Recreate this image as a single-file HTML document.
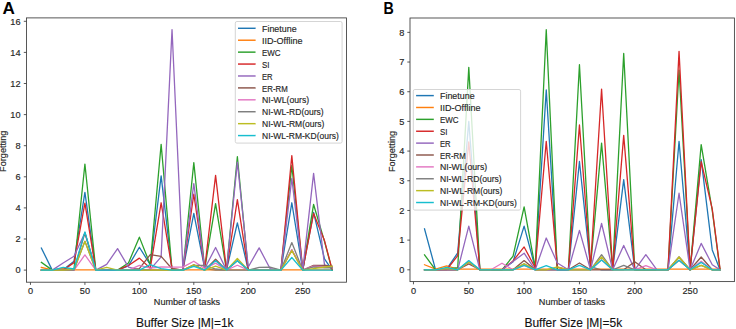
<!DOCTYPE html>
<html><head><meta charset="utf-8"><style>
html,body{margin:0;padding:0;background:#fff;}
body{width:736px;height:329px;overflow:hidden;}
svg{display:block;font-family:'Liberation Sans', sans-serif;}
</style></head><body>
<svg width="736" height="329" viewBox="0 0 736 329">
<rect width="736" height="329" fill="#fff"/>
<text transform="translate(2.4,13.6) scale(1.07,0.985)" font-size="16" font-weight="bold" fill="#000">A</text>
<text transform="translate(383.6,13.75) scale(0.89,1.0)" font-size="16" font-weight="bold" fill="#000">B</text>
<clipPath id="cA"><rect x="26.5" y="17.9" width="320.0" height="264.3"/></clipPath>
<g clip-path="url(#cA)" fill="none" stroke-width="1.3" stroke-linejoin="round" stroke-linecap="square">
<polyline stroke="#1f77b4" points="41.35,248.02 52.24,270.10 63.13,269.79 74.02,261.24 84.91,192.35 95.80,270.10 106.69,270.10 117.58,270.10 128.47,265.90 139.36,247.24 150.25,264.66 161.14,175.87 172.03,270.10 182.92,270.10 193.81,213.34 204.70,268.55 215.59,270.10 226.48,270.10 237.37,222.83 248.26,270.10 259.15,270.10 270.04,270.10 280.93,270.10 291.82,202.77 302.71,270.10 313.60,212.41 324.49,258.90 332.11,270.10"/>
<polyline stroke="#ff7f0e" points="41.35,267.46 52.24,269.79 63.13,268.08 74.02,269.79 84.91,269.79 95.80,269.79 106.69,269.79 117.58,269.79 128.47,269.79 139.36,269.79 150.25,269.79 161.14,269.79 172.03,269.79 182.92,269.79 193.81,269.79 204.70,269.79 215.59,269.79 226.48,269.79 237.37,269.79 248.26,269.79 259.15,269.79 270.04,269.79 280.93,269.79 291.82,269.79 302.71,269.79 313.60,269.79 324.49,269.79 332.11,269.79"/>
<polyline stroke="#2ca02c" points="41.35,262.33 52.24,270.10 63.13,269.79 74.02,269.01 84.91,164.05 95.80,270.10 106.69,270.10 117.58,270.10 128.47,262.95 139.36,237.13 150.25,264.66 161.14,144.30 172.03,270.10 182.92,270.10 193.81,162.65 204.70,268.55 215.59,203.70 226.48,270.10 237.37,156.74 248.26,270.10 259.15,270.10 270.04,270.10 280.93,270.10 291.82,165.45 302.71,270.10 313.60,204.48 324.49,241.33 332.11,270.10"/>
<polyline stroke="#d62728" points="41.35,270.10 52.24,270.10 63.13,270.10 74.02,262.64 84.91,203.08 95.80,270.10 106.69,270.10 117.58,270.10 128.47,265.44 139.36,258.13 150.25,268.23 161.14,202.77 172.03,268.70 182.92,270.10 193.81,194.22 204.70,268.55 215.59,175.40 226.48,270.10 237.37,199.66 248.26,270.10 259.15,270.10 270.04,270.10 280.93,270.10 291.82,155.65 302.71,270.10 313.60,213.50 324.49,240.56 332.11,269.48"/>
<polyline stroke="#9467bd" points="41.35,270.10 52.24,270.10 63.13,262.95 74.02,256.26 84.91,232.78 95.80,270.10 106.69,264.35 117.58,248.64 128.47,267.15 139.36,269.79 150.25,269.32 161.14,256.88 172.03,29.54 182.92,269.17 193.81,183.64 204.70,268.55 215.59,247.55 226.48,270.10 237.37,162.18 248.26,266.99 259.15,247.86 270.04,268.55 280.93,270.10 291.82,178.36 302.71,270.10 313.60,173.38 324.49,264.81 332.11,266.99"/>
<polyline stroke="#8c564b" points="41.35,270.10 52.24,270.10 63.13,270.10 74.02,270.10 84.91,232.78 95.80,270.10 106.69,270.10 117.58,270.10 128.47,270.10 139.36,268.70 150.25,254.71 161.14,256.42 172.03,268.70 182.92,270.10 193.81,264.81 204.70,270.10 215.59,259.22 226.48,270.10 237.37,260.77 248.26,270.10 259.15,270.10 270.04,270.10 280.93,270.10 291.82,249.89 302.71,270.10 313.60,265.28 324.49,265.44 332.11,266.21"/>
<polyline stroke="#e377c2" points="41.35,270.10 52.24,270.10 63.13,270.10 74.02,270.10 84.91,254.86 95.80,270.10 106.69,270.10 117.58,270.10 128.47,270.10 139.36,265.44 150.25,268.08 161.14,266.99 172.03,267.15 182.92,267.15 193.81,261.24 204.70,268.55 215.59,263.10 226.48,270.10 237.37,265.28 248.26,270.10 259.15,270.10 270.04,270.10 280.93,270.10 291.82,249.89 302.71,270.10 313.60,266.21 324.49,266.68 332.11,266.99"/>
<polyline stroke="#7f7f7f" points="41.35,270.10 52.24,270.10 63.13,270.10 74.02,270.10 84.91,241.33 95.80,270.10 106.69,270.10 117.58,270.10 128.47,270.10 139.36,270.10 150.25,270.10 161.14,270.10 172.03,270.10 182.92,270.10 193.81,265.44 204.70,265.44 215.59,269.01 226.48,270.10 237.37,270.10 248.26,270.10 259.15,267.46 270.04,267.15 280.93,270.10 291.82,242.58 302.71,270.10 313.60,266.99 324.49,267.77 332.11,267.77"/>
<polyline stroke="#bcbd22" points="41.35,270.10 52.24,270.10 63.13,270.10 74.02,269.32 84.91,241.33 95.80,270.10 106.69,267.46 117.58,270.10 128.47,270.10 139.36,270.10 150.25,270.10 161.14,270.10 172.03,270.10 182.92,270.10 193.81,264.81 204.70,270.10 215.59,266.06 226.48,270.10 237.37,258.44 248.26,270.10 259.15,270.10 270.04,270.10 280.93,270.10 291.82,250.66 302.71,270.10 313.60,268.55 324.49,266.99 332.11,266.21"/>
<polyline stroke="#17becf" points="41.35,270.10 52.24,270.10 63.13,267.46 74.02,269.01 84.91,231.85 95.80,270.10 106.69,270.10 117.58,270.10 128.47,270.10 139.36,270.10 150.25,264.66 161.14,268.55 172.03,270.10 182.92,270.10 193.81,266.37 204.70,270.10 215.59,260.77 226.48,270.10 237.37,260.77 248.26,270.10 259.15,270.10 270.04,270.10 280.93,270.10 291.82,257.50 302.71,270.10 313.60,270.10 324.49,270.10 332.11,270.10"/>
</g>
<rect x="235.3" y="21.5" width="106.8" height="121.6" rx="1.6" ry="1.6" fill="#fff" fill-opacity="0.8" stroke="#d0d0d0" stroke-width="0.9"/>
<line x1="238.0" x2="255.6" y1="28.30" y2="28.30" stroke="#1f77b4" stroke-width="1.45"/>
<text x="262.00" y="31.90" font-size="8.6" fill="#262626" stroke="#262626" stroke-width="0.15" textLength="34.61" lengthAdjust="spacingAndGlyphs">Finetune</text>
<line x1="238.0" x2="255.6" y1="40.22" y2="40.22" stroke="#ff7f0e" stroke-width="1.45"/>
<text x="262.00" y="43.82" font-size="8.6" fill="#262626" stroke="#262626" stroke-width="0.15" textLength="40.44" lengthAdjust="spacingAndGlyphs">IID-Offline</text>
<line x1="238.0" x2="255.6" y1="52.14" y2="52.14" stroke="#2ca02c" stroke-width="1.45"/>
<text x="262.00" y="55.74" font-size="8.6" fill="#262626" stroke="#262626" stroke-width="0.15" textLength="18.64" lengthAdjust="spacingAndGlyphs">EWC</text>
<line x1="238.0" x2="255.6" y1="64.06" y2="64.06" stroke="#d62728" stroke-width="1.45"/>
<text x="262.00" y="67.66" font-size="8.6" fill="#262626" stroke="#262626" stroke-width="0.15" textLength="7.47" lengthAdjust="spacingAndGlyphs">SI</text>
<line x1="238.0" x2="255.6" y1="75.98" y2="75.98" stroke="#9467bd" stroke-width="1.45"/>
<text x="262.00" y="79.58" font-size="8.6" fill="#262626" stroke="#262626" stroke-width="0.15" textLength="10.67" lengthAdjust="spacingAndGlyphs">ER</text>
<line x1="238.0" x2="255.6" y1="87.90" y2="87.90" stroke="#8c564b" stroke-width="1.45"/>
<text x="262.00" y="91.50" font-size="8.6" fill="#262626" stroke="#262626" stroke-width="0.15" textLength="25.77" lengthAdjust="spacingAndGlyphs">ER-RM</text>
<line x1="238.0" x2="255.6" y1="99.82" y2="99.82" stroke="#e377c2" stroke-width="1.45"/>
<text x="262.00" y="103.42" font-size="8.6" fill="#262626" stroke="#262626" stroke-width="0.15" textLength="47.17" lengthAdjust="spacingAndGlyphs">NI-WL(ours)</text>
<line x1="238.0" x2="255.6" y1="111.74" y2="111.74" stroke="#7f7f7f" stroke-width="1.45"/>
<text x="262.00" y="115.34" font-size="8.6" fill="#262626" stroke="#262626" stroke-width="0.15" textLength="61.71" lengthAdjust="spacingAndGlyphs">NI-WL-RD(ours)</text>
<line x1="238.0" x2="255.6" y1="123.66" y2="123.66" stroke="#bcbd22" stroke-width="1.45"/>
<text x="262.00" y="127.26" font-size="8.6" fill="#262626" stroke="#262626" stroke-width="0.15" textLength="62.46" lengthAdjust="spacingAndGlyphs">NI-WL-RM(ours)</text>
<line x1="238.0" x2="255.6" y1="135.58" y2="135.58" stroke="#17becf" stroke-width="1.45"/>
<text x="262.00" y="139.18" font-size="8.6" fill="#262626" stroke="#262626" stroke-width="0.15" textLength="76.82" lengthAdjust="spacingAndGlyphs">NI-WL-RM-KD(ours)</text>
<rect x="26.5" y="17.9" width="320.0" height="264.3" fill="none" stroke="#3a3a3a" stroke-width="0.85"/>
<line x1="23.8" x2="26.5" y1="270.10" y2="270.10" stroke="#3a3a3a" stroke-width="0.85"/>
<text x="20.60" y="273.30" font-size="8.6" text-anchor="end" fill="#262626" stroke="#262626" stroke-width="0.15" textLength="5.12" lengthAdjust="spacingAndGlyphs">0</text>
<line x1="23.8" x2="26.5" y1="239.00" y2="239.00" stroke="#3a3a3a" stroke-width="0.85"/>
<text x="20.60" y="242.20" font-size="8.6" text-anchor="end" fill="#262626" stroke="#262626" stroke-width="0.15" textLength="5.12" lengthAdjust="spacingAndGlyphs">2</text>
<line x1="23.8" x2="26.5" y1="207.90" y2="207.90" stroke="#3a3a3a" stroke-width="0.85"/>
<text x="20.60" y="211.10" font-size="8.6" text-anchor="end" fill="#262626" stroke="#262626" stroke-width="0.15" textLength="5.12" lengthAdjust="spacingAndGlyphs">4</text>
<line x1="23.8" x2="26.5" y1="176.80" y2="176.80" stroke="#3a3a3a" stroke-width="0.85"/>
<text x="20.60" y="180.00" font-size="8.6" text-anchor="end" fill="#262626" stroke="#262626" stroke-width="0.15" textLength="5.12" lengthAdjust="spacingAndGlyphs">6</text>
<line x1="23.8" x2="26.5" y1="145.70" y2="145.70" stroke="#3a3a3a" stroke-width="0.85"/>
<text x="20.60" y="148.90" font-size="8.6" text-anchor="end" fill="#262626" stroke="#262626" stroke-width="0.15" textLength="5.12" lengthAdjust="spacingAndGlyphs">8</text>
<line x1="23.8" x2="26.5" y1="114.60" y2="114.60" stroke="#3a3a3a" stroke-width="0.85"/>
<text x="20.60" y="117.80" font-size="8.6" text-anchor="end" fill="#262626" stroke="#262626" stroke-width="0.15" textLength="10.23" lengthAdjust="spacingAndGlyphs">10</text>
<line x1="23.8" x2="26.5" y1="83.50" y2="83.50" stroke="#3a3a3a" stroke-width="0.85"/>
<text x="20.60" y="86.70" font-size="8.6" text-anchor="end" fill="#262626" stroke="#262626" stroke-width="0.15" textLength="10.23" lengthAdjust="spacingAndGlyphs">12</text>
<line x1="23.8" x2="26.5" y1="52.40" y2="52.40" stroke="#3a3a3a" stroke-width="0.85"/>
<text x="20.60" y="55.60" font-size="8.6" text-anchor="end" fill="#262626" stroke="#262626" stroke-width="0.15" textLength="10.23" lengthAdjust="spacingAndGlyphs">14</text>
<line x1="23.8" x2="26.5" y1="21.30" y2="21.30" stroke="#3a3a3a" stroke-width="0.85"/>
<text x="20.60" y="24.50" font-size="8.6" text-anchor="end" fill="#262626" stroke="#262626" stroke-width="0.15" textLength="10.23" lengthAdjust="spacingAndGlyphs">16</text>
<line x1="30.46" x2="30.46" y1="282.2" y2="284.9" stroke="#3a3a3a" stroke-width="0.85"/>
<text x="30.46" y="293.80" font-size="8.6" text-anchor="middle" fill="#262626" stroke="#262626" stroke-width="0.15" textLength="5.12" lengthAdjust="spacingAndGlyphs">0</text>
<line x1="84.91" x2="84.91" y1="282.2" y2="284.9" stroke="#3a3a3a" stroke-width="0.85"/>
<text x="84.91" y="293.80" font-size="8.6" text-anchor="middle" fill="#262626" stroke="#262626" stroke-width="0.15" textLength="10.23" lengthAdjust="spacingAndGlyphs">50</text>
<line x1="139.36" x2="139.36" y1="282.2" y2="284.9" stroke="#3a3a3a" stroke-width="0.85"/>
<text x="139.36" y="293.80" font-size="8.6" text-anchor="middle" fill="#262626" stroke="#262626" stroke-width="0.15" textLength="15.35" lengthAdjust="spacingAndGlyphs">100</text>
<line x1="193.81" x2="193.81" y1="282.2" y2="284.9" stroke="#3a3a3a" stroke-width="0.85"/>
<text x="193.81" y="293.80" font-size="8.6" text-anchor="middle" fill="#262626" stroke="#262626" stroke-width="0.15" textLength="15.35" lengthAdjust="spacingAndGlyphs">150</text>
<line x1="248.26" x2="248.26" y1="282.2" y2="284.9" stroke="#3a3a3a" stroke-width="0.85"/>
<text x="248.26" y="293.80" font-size="8.6" text-anchor="middle" fill="#262626" stroke="#262626" stroke-width="0.15" textLength="15.35" lengthAdjust="spacingAndGlyphs">200</text>
<line x1="302.71" x2="302.71" y1="282.2" y2="284.9" stroke="#3a3a3a" stroke-width="0.85"/>
<text x="302.71" y="293.80" font-size="8.6" text-anchor="middle" fill="#262626" stroke="#262626" stroke-width="0.15" textLength="15.35" lengthAdjust="spacingAndGlyphs">250</text>
<text x="186.95" y="305.00" font-size="8.6" text-anchor="middle" fill="#262626" stroke="#262626" stroke-width="0.15" textLength="66.27" lengthAdjust="spacingAndGlyphs">Number of tasks</text>
<g transform="translate(6.2,151.3) rotate(-90)"><text x="0.00" y="0.00" font-size="8.6" text-anchor="middle" fill="#262626" stroke="#262626" stroke-width="0.15" textLength="41.21" lengthAdjust="spacingAndGlyphs">Forgetting</text></g>
<clipPath id="cB"><rect x="410.0" y="18.0" width="324.4" height="263.6"/></clipPath>
<g clip-path="url(#cB)" fill="none" stroke-width="1.3" stroke-linejoin="round" stroke-linecap="square">
<polyline stroke="#1f77b4" points="424.53,228.84 435.59,269.80 446.66,269.21 457.72,252.88 468.79,121.40 479.86,269.80 490.92,269.80 501.99,269.80 513.05,261.79 524.12,226.17 535.19,267.72 546.25,89.94 557.32,269.80 568.38,269.80 579.45,161.47 590.52,266.83 601.58,269.80 612.65,269.80 623.71,179.57 634.78,269.80 645.85,269.80 656.91,269.80 667.98,269.80 679.04,141.29 690.11,269.80 701.18,159.69 712.24,249.91 719.99,269.80"/>
<polyline stroke="#ff7f0e" points="424.53,264.75 435.59,269.21 446.66,265.94 457.72,269.21 468.79,269.21 479.86,269.21 490.92,269.21 501.99,269.21 513.05,269.21 524.12,269.21 535.19,269.21 546.25,269.21 557.32,269.21 568.38,269.21 579.45,269.21 590.52,269.21 601.58,269.21 612.65,269.21 623.71,269.21 634.78,269.21 645.85,269.21 656.91,269.21 667.98,269.21 679.04,269.21 690.11,269.21 701.18,269.21 712.24,269.21 719.99,269.21"/>
<polyline stroke="#2ca02c" points="424.53,254.96 435.59,269.80 446.66,269.21 457.72,267.72 468.79,67.38 479.86,269.80 490.92,269.80 501.99,269.80 513.05,256.15 524.12,206.88 535.19,267.72 546.25,29.69 557.32,269.80 568.38,269.80 579.45,64.71 590.52,266.83 601.58,143.07 612.65,269.80 623.71,53.43 634.78,269.80 645.85,269.80 656.91,269.80 667.98,269.80 679.04,70.05 690.11,269.80 701.18,144.55 712.24,210.44 719.99,269.80"/>
<polyline stroke="#d62728" points="424.53,269.80 435.59,269.80 446.66,269.80 457.72,255.55 468.79,141.88 479.86,269.80 490.92,269.80 501.99,269.80 513.05,260.90 524.12,246.95 535.19,267.72 546.25,141.29 557.32,267.13 568.38,269.80 579.45,124.96 590.52,266.83 601.58,89.05 612.65,269.80 623.71,135.35 634.78,269.80 645.85,269.80 656.91,269.80 667.98,269.80 679.04,51.36 690.11,269.80 701.18,161.76 712.24,208.96 719.99,268.61"/>
<polyline stroke="#9467bd" points="424.53,269.80 435.59,269.80 446.66,269.80 457.72,269.80 468.79,226.17 479.86,269.80 490.92,269.80 501.99,269.80 513.05,261.49 524.12,253.18 535.19,269.80 546.25,238.04 557.32,262.97 568.38,269.80 579.45,230.33 590.52,269.80 601.58,223.50 612.65,269.80 623.71,245.46 634.78,269.80 645.85,254.66 656.91,269.80 667.98,269.80 679.04,193.23 690.11,269.80 701.18,243.38 712.24,264.75 719.99,269.80"/>
<polyline stroke="#8c564b" points="424.53,269.80 435.59,269.80 446.66,269.80 457.72,269.80 468.79,263.86 479.86,269.80 490.92,269.80 501.99,269.80 513.05,269.80 524.12,260.60 535.19,269.80 546.25,269.80 557.32,269.80 568.38,269.80 579.45,262.97 590.52,269.80 601.58,269.80 612.65,269.80 623.71,269.80 634.78,261.79 645.85,269.80 656.91,269.80 667.98,269.80 679.04,260.30 690.11,269.80 701.18,257.04 712.24,269.80 719.99,269.80"/>
<polyline stroke="#e377c2" points="424.53,269.80 435.59,269.80 446.66,269.80 457.72,269.80 468.79,262.08 479.86,269.80 490.92,269.80 501.99,263.27 513.05,269.80 524.12,265.35 535.19,269.80 546.25,269.80 557.32,269.80 568.38,269.80 579.45,269.80 590.52,269.80 601.58,259.71 612.65,269.80 623.71,269.80 634.78,269.80 645.85,265.64 656.91,269.80 667.98,269.80 679.04,257.04 690.11,269.80 701.18,261.19 712.24,269.80 719.99,269.80"/>
<polyline stroke="#7f7f7f" points="424.53,269.80 435.59,269.80 446.66,269.80 457.72,269.80 468.79,262.08 479.86,269.80 490.92,269.80 501.99,269.80 513.05,269.80 524.12,263.86 535.19,269.80 546.25,269.80 557.32,269.80 568.38,269.80 579.45,269.80 590.52,269.80 601.58,254.66 612.65,269.80 623.71,265.35 634.78,269.80 645.85,269.80 656.91,269.80 667.98,269.80 679.04,257.04 690.11,269.80 701.18,265.35 712.24,269.80 719.99,269.80"/>
<polyline stroke="#bcbd22" points="424.53,269.80 435.59,269.80 446.66,268.32 457.72,269.80 468.79,262.08 479.86,269.80 490.92,269.80 501.99,269.80 513.05,269.80 524.12,263.86 535.19,269.80 546.25,269.80 557.32,266.83 568.38,269.80 579.45,269.80 590.52,269.80 601.58,257.04 612.65,269.80 623.71,269.80 634.78,269.80 645.85,269.80 656.91,269.80 667.98,269.80 679.04,257.04 690.11,269.80 701.18,265.35 712.24,269.80 719.99,269.80"/>
<polyline stroke="#17becf" points="424.53,269.80 435.59,269.80 446.66,267.43 457.72,269.80 468.79,260.60 479.86,269.80 490.92,269.80 501.99,269.80 513.05,269.80 524.12,265.35 535.19,269.80 546.25,265.64 557.32,269.80 568.38,269.80 579.45,265.35 590.52,269.80 601.58,260.01 612.65,269.80 623.71,269.80 634.78,269.80 645.85,269.80 656.91,269.80 667.98,269.80 679.04,260.30 690.11,269.80 701.18,262.38 712.24,269.80 719.99,269.80"/>
</g>
<rect x="413.3" y="89.5" width="107.3" height="120.6" rx="1.6" ry="1.6" fill="#fff" fill-opacity="0.8" stroke="#d0d0d0" stroke-width="0.9"/>
<line x1="416.1" x2="433.8" y1="95.60" y2="95.60" stroke="#1f77b4" stroke-width="1.45"/>
<text x="440.00" y="99.20" font-size="8.6" fill="#262626" stroke="#262626" stroke-width="0.15" textLength="34.61" lengthAdjust="spacingAndGlyphs">Finetune</text>
<line x1="416.1" x2="433.8" y1="107.48" y2="107.48" stroke="#ff7f0e" stroke-width="1.45"/>
<text x="440.00" y="111.08" font-size="8.6" fill="#262626" stroke="#262626" stroke-width="0.15" textLength="40.44" lengthAdjust="spacingAndGlyphs">IID-Offline</text>
<line x1="416.1" x2="433.8" y1="119.36" y2="119.36" stroke="#2ca02c" stroke-width="1.45"/>
<text x="440.00" y="122.96" font-size="8.6" fill="#262626" stroke="#262626" stroke-width="0.15" textLength="18.64" lengthAdjust="spacingAndGlyphs">EWC</text>
<line x1="416.1" x2="433.8" y1="131.24" y2="131.24" stroke="#d62728" stroke-width="1.45"/>
<text x="440.00" y="134.84" font-size="8.6" fill="#262626" stroke="#262626" stroke-width="0.15" textLength="7.47" lengthAdjust="spacingAndGlyphs">SI</text>
<line x1="416.1" x2="433.8" y1="143.12" y2="143.12" stroke="#9467bd" stroke-width="1.45"/>
<text x="440.00" y="146.72" font-size="8.6" fill="#262626" stroke="#262626" stroke-width="0.15" textLength="10.67" lengthAdjust="spacingAndGlyphs">ER</text>
<line x1="416.1" x2="433.8" y1="155.00" y2="155.00" stroke="#8c564b" stroke-width="1.45"/>
<text x="440.00" y="158.60" font-size="8.6" fill="#262626" stroke="#262626" stroke-width="0.15" textLength="25.77" lengthAdjust="spacingAndGlyphs">ER-RM</text>
<line x1="416.1" x2="433.8" y1="166.88" y2="166.88" stroke="#e377c2" stroke-width="1.45"/>
<text x="440.00" y="170.48" font-size="8.6" fill="#262626" stroke="#262626" stroke-width="0.15" textLength="47.17" lengthAdjust="spacingAndGlyphs">NI-WL(ours)</text>
<line x1="416.1" x2="433.8" y1="178.76" y2="178.76" stroke="#7f7f7f" stroke-width="1.45"/>
<text x="440.00" y="182.36" font-size="8.6" fill="#262626" stroke="#262626" stroke-width="0.15" textLength="61.71" lengthAdjust="spacingAndGlyphs">NI-WL-RD(ours)</text>
<line x1="416.1" x2="433.8" y1="190.64" y2="190.64" stroke="#bcbd22" stroke-width="1.45"/>
<text x="440.00" y="194.24" font-size="8.6" fill="#262626" stroke="#262626" stroke-width="0.15" textLength="62.46" lengthAdjust="spacingAndGlyphs">NI-WL-RM(ours)</text>
<line x1="416.1" x2="433.8" y1="202.52" y2="202.52" stroke="#17becf" stroke-width="1.45"/>
<text x="440.00" y="206.12" font-size="8.6" fill="#262626" stroke="#262626" stroke-width="0.15" textLength="76.82" lengthAdjust="spacingAndGlyphs">NI-WL-RM-KD(ours)</text>
<rect x="410.0" y="18.0" width="324.4" height="263.6" fill="none" stroke="#3a3a3a" stroke-width="0.85"/>
<line x1="407.3" x2="410.0" y1="269.80" y2="269.80" stroke="#3a3a3a" stroke-width="0.85"/>
<text x="404.40" y="273.00" font-size="8.6" text-anchor="end" fill="#262626" stroke="#262626" stroke-width="0.15" textLength="5.12" lengthAdjust="spacingAndGlyphs">0</text>
<line x1="407.3" x2="410.0" y1="240.12" y2="240.12" stroke="#3a3a3a" stroke-width="0.85"/>
<text x="404.40" y="243.32" font-size="8.6" text-anchor="end" fill="#262626" stroke="#262626" stroke-width="0.15" textLength="5.12" lengthAdjust="spacingAndGlyphs">1</text>
<line x1="407.3" x2="410.0" y1="210.44" y2="210.44" stroke="#3a3a3a" stroke-width="0.85"/>
<text x="404.40" y="213.64" font-size="8.6" text-anchor="end" fill="#262626" stroke="#262626" stroke-width="0.15" textLength="5.12" lengthAdjust="spacingAndGlyphs">2</text>
<line x1="407.3" x2="410.0" y1="180.76" y2="180.76" stroke="#3a3a3a" stroke-width="0.85"/>
<text x="404.40" y="183.96" font-size="8.6" text-anchor="end" fill="#262626" stroke="#262626" stroke-width="0.15" textLength="5.12" lengthAdjust="spacingAndGlyphs">3</text>
<line x1="407.3" x2="410.0" y1="151.08" y2="151.08" stroke="#3a3a3a" stroke-width="0.85"/>
<text x="404.40" y="154.28" font-size="8.6" text-anchor="end" fill="#262626" stroke="#262626" stroke-width="0.15" textLength="5.12" lengthAdjust="spacingAndGlyphs">4</text>
<line x1="407.3" x2="410.0" y1="121.40" y2="121.40" stroke="#3a3a3a" stroke-width="0.85"/>
<text x="404.40" y="124.60" font-size="8.6" text-anchor="end" fill="#262626" stroke="#262626" stroke-width="0.15" textLength="5.12" lengthAdjust="spacingAndGlyphs">5</text>
<line x1="407.3" x2="410.0" y1="91.72" y2="91.72" stroke="#3a3a3a" stroke-width="0.85"/>
<text x="404.40" y="94.92" font-size="8.6" text-anchor="end" fill="#262626" stroke="#262626" stroke-width="0.15" textLength="5.12" lengthAdjust="spacingAndGlyphs">6</text>
<line x1="407.3" x2="410.0" y1="62.04" y2="62.04" stroke="#3a3a3a" stroke-width="0.85"/>
<text x="404.40" y="65.24" font-size="8.6" text-anchor="end" fill="#262626" stroke="#262626" stroke-width="0.15" textLength="5.12" lengthAdjust="spacingAndGlyphs">7</text>
<line x1="407.3" x2="410.0" y1="32.36" y2="32.36" stroke="#3a3a3a" stroke-width="0.85"/>
<text x="404.40" y="35.56" font-size="8.6" text-anchor="end" fill="#262626" stroke="#262626" stroke-width="0.15" textLength="5.12" lengthAdjust="spacingAndGlyphs">8</text>
<line x1="413.46" x2="413.46" y1="281.6" y2="284.3" stroke="#3a3a3a" stroke-width="0.85"/>
<text x="413.46" y="293.80" font-size="8.6" text-anchor="middle" fill="#262626" stroke="#262626" stroke-width="0.15" textLength="5.12" lengthAdjust="spacingAndGlyphs">0</text>
<line x1="468.79" x2="468.79" y1="281.6" y2="284.3" stroke="#3a3a3a" stroke-width="0.85"/>
<text x="468.79" y="293.80" font-size="8.6" text-anchor="middle" fill="#262626" stroke="#262626" stroke-width="0.15" textLength="10.23" lengthAdjust="spacingAndGlyphs">50</text>
<line x1="524.12" x2="524.12" y1="281.6" y2="284.3" stroke="#3a3a3a" stroke-width="0.85"/>
<text x="524.12" y="293.80" font-size="8.6" text-anchor="middle" fill="#262626" stroke="#262626" stroke-width="0.15" textLength="15.35" lengthAdjust="spacingAndGlyphs">100</text>
<line x1="579.45" x2="579.45" y1="281.6" y2="284.3" stroke="#3a3a3a" stroke-width="0.85"/>
<text x="579.45" y="293.80" font-size="8.6" text-anchor="middle" fill="#262626" stroke="#262626" stroke-width="0.15" textLength="15.35" lengthAdjust="spacingAndGlyphs">150</text>
<line x1="634.78" x2="634.78" y1="281.6" y2="284.3" stroke="#3a3a3a" stroke-width="0.85"/>
<text x="634.78" y="293.80" font-size="8.6" text-anchor="middle" fill="#262626" stroke="#262626" stroke-width="0.15" textLength="15.35" lengthAdjust="spacingAndGlyphs">200</text>
<line x1="690.11" x2="690.11" y1="281.6" y2="284.3" stroke="#3a3a3a" stroke-width="0.85"/>
<text x="690.11" y="293.80" font-size="8.6" text-anchor="middle" fill="#262626" stroke="#262626" stroke-width="0.15" textLength="15.35" lengthAdjust="spacingAndGlyphs">250</text>
<text x="572.00" y="305.00" font-size="8.6" text-anchor="middle" fill="#262626" stroke="#262626" stroke-width="0.15" textLength="66.27" lengthAdjust="spacingAndGlyphs">Number of tasks</text>
<g transform="translate(394.6,151.5) rotate(-90)"><text x="0.00" y="0.00" font-size="8.6" text-anchor="middle" fill="#262626" stroke="#262626" stroke-width="0.15" textLength="41.21" lengthAdjust="spacingAndGlyphs">Forgetting</text></g>
<text x="184.75" y="326.7" font-size="12" text-anchor="middle" fill="#111" stroke="#111" stroke-width="0.12">Buffer Size |M|=1k</text>
<text x="573.3" y="326.7" font-size="12" text-anchor="middle" fill="#111" stroke="#111" stroke-width="0.12">Buffer Size |M|=5k</text>
</svg>
</body></html>
